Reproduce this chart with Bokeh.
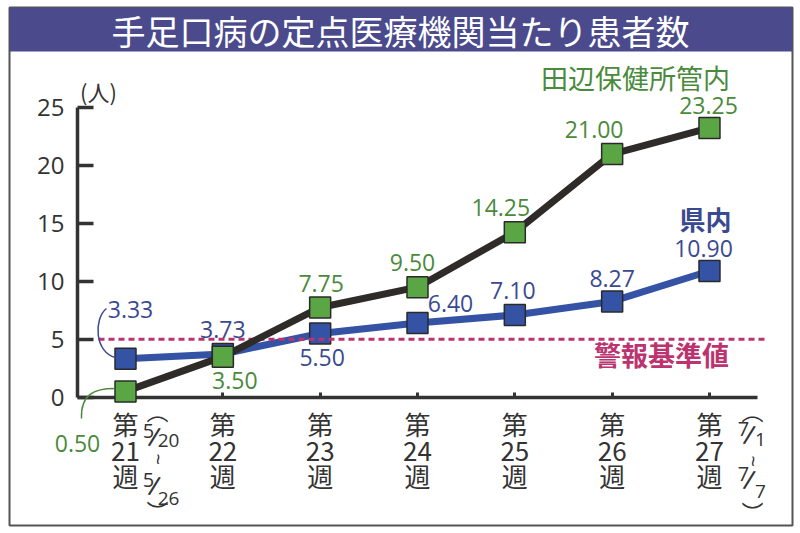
import math
from bokeh.plotting import figure
from bokeh.models import Range1d, LinearAxis, FixedTicker, BoxAnnotation
from bokeh.core.properties import value
from bokeh.embed import file_html
from bokeh.resources import INLINE

# ---------------- data ----------------
title = "手足口病の定点医療機関当たり患者数"
weeks = [21, 22, 23, 24, 25, 26, 27]
week_labels = ["第\n21\n週", "第\n22\n週", "第\n23\n週", "第\n24\n週",
               "第\n25\n週", "第\n26\n週", "第\n27\n週"]
tanabe = [0.50, 3.50, 7.75, 9.50, 14.25, 21.00, 23.25]
kennai = [3.33, 3.73, 5.50, 6.40, 7.10, 8.27, 10.90]
threshold = 5
y_ticks = [0, 5, 10, 15, 20, 25]
series_names = ["田辺保健所管内", "県内"]
threshold_name = "警報基準値"
unit_label = "(人)"
first_week_period = ("5/20", "5/26")
last_week_period = ("7/1", "7/7")

# ---------------- layout / style ----------------
W, H = 800, 533
BL, BR, BT, BB = 9, 8, 7, 8          # white margin around the framed chart
X21, DX = 125.0, 97.33      # px of first week, px per week
Y0, PPU = 396.7, 11.58      # px of value 0, px per unit

def xd(px):
    return weeks[0] + (px - X21) / DX

def yd(py):
    return (Y0 - py) / PPU

GREEN = "#5aa544"
GREEN_T = "#4a8a3c"
BLUE = "#3553a5"
BLUE_T = "#3a4a90"
DARK = "#2e2b28"
RED = "#bb3470"
AX = "#333333"
JP = "Noto Sans CJK JP"
NUM = "Open Sans"

p = figure(width=W, height=H, x_range=Range1d(xd(BL), xd(W - BR)),
           y_range=Range1d(yd(H - BB), yd(BT)),
           x_axis_type=None, y_axis_type=None,
           output_backend="svg", toolbar_location=None,
           min_border_left=BL, min_border_right=BR,
           min_border_top=BT, min_border_bottom=BB)
p.xgrid.visible = False
p.ygrid.visible = False
p.background_fill_color = "white"
p.border_fill_color = "white"
p.outline_line_color = "#555555"
p.outline_line_width = 2

# title band
band = BoxAnnotation(bottom=yd(51), fill_color="#4a4a8c", fill_alpha=1.0,
                     line_color=None, level="image")
p.add_layout(band)
p.text(x=[xd(400)], y=[yd(29.5)], text=[title], text_color="white",
       text_font=value(JP), text_font_size="34px",
       text_align="center", text_baseline="middle")

# axes
yaxis = LinearAxis(ticker=FixedTicker(ticks=y_ticks), fixed_location=xd(77),
                   bounds=(y_ticks[0], y_ticks[-1]),
                   axis_line_width=3.5, axis_line_color=AX,
                   major_tick_in=16, major_tick_out=0,
                   major_tick_line_width=3.5, major_tick_line_color=AX,
                   minor_tick_line_color=None,
                   major_label_text_font=NUM, major_label_text_font_size="24px",
                   major_label_text_color=AX, major_label_standoff=13,
                   level="underlay")
p.add_layout(yaxis, "left")

xaxis = LinearAxis(ticker=FixedTicker(ticks=weeks), fixed_location=0,
                   bounds=(xd(77), xd(757)),
                   axis_line_width=3.5, axis_line_color=AX,
                   major_tick_in=5, major_tick_out=0,
                   major_tick_line_width=3, major_tick_line_color=AX,
                   minor_tick_line_color=None,
                   major_label_overrides={w: l for w, l in zip(weeks, week_labels)},
                   major_label_text_font=JP, major_label_text_font_size="26px",
                   major_label_text_line_height=0.7,
                   major_label_text_color=AX, major_label_standoff=8,
                   level="underlay")
p.add_layout(xaxis, "below")

# 県内 series
p.line(weeks, kennai, line_color=BLUE, line_width=7)
p.scatter(weeks, kennai, marker="square", size=21, fill_color=BLUE,
          line_color="#2a2a2a", line_width=1.5)

# threshold line
p.line([xd(98), xd(765)], [threshold, threshold], line_color=RED,
       line_width=3, line_dash="6 4")

# 田辺 series
p.line(weeks, tanabe, line_color=DARK, line_width=7)
p.scatter(weeks, tanabe, marker="square", size=21, fill_color=GREEN,
          line_color="#2a2a2a", line_width=1.5)

# value labels
g_off = [(-48, 52), (12, 24), (1, -24), (-5, -25), (-14, -25), (-18, -25), (-1, -22)]
b_off = [(5, -49), (0, -25), (2, 24), (33, -20), (-2, -24), (0, -23), (-6, -22)]
p.text(x=weeks, y=tanabe, text=[f"{v:.2f}" for v in tanabe],
       x_offset=[o[0] for o in g_off], y_offset=[o[1] for o in g_off],
       text_color=GREEN_T, text_font=value(NUM), text_font_size="23px",
       text_align="center", text_baseline="middle")
p.text(x=weeks, y=kennai, text=[f"{v:.2f}" for v in kennai],
       x_offset=[o[0] for o in b_off], y_offset=[o[1] for o in b_off],
       text_color=BLUE_T, text_font=value(NUM), text_font_size="23px",
       text_align="center", text_baseline="middle")

# leader curves
p.bezier(x0=[xd(81)], y0=[yd(418)], cx0=[xd(80)], cy0=[yd(393)],
         cx1=[xd(95)], cy1=[yd(388)], x1=[xd(114)], y1=[yd(388)],
         line_color=GREEN_T, line_width=1.5)
p.bezier(x0=[xd(106)], y0=[yd(308)], cx0=[xd(93)], cy0=[yd(318)],
         cx1=[xd(94)], cy1=[yd(352)], x1=[xd(115)], y1=[yd(357)],
         line_color=BLUE_T, line_width=1.5)

# series names
p.text(x=[weeks[-1]], y=[tanabe[-1]], text=[series_names[0]], x_offset=-74, y_offset=-50,
       text_color=GREEN_T, text_font=value(JP), text_font_size="27px",
       text_align="center", text_baseline="middle")
p.text(x=[weeks[-1]], y=[kennai[-1]], text=[series_names[1]], x_offset=-4, y_offset=-52,
       text_color=BLUE_T, text_font=value(JP), text_font_size="26px",
       text_font_style="bold", text_align="center", text_baseline="middle")
p.text(x=[weeks[-1]], y=[threshold], text=[threshold_name], x_offset=-48, y_offset=15,
       text_color=RED, text_font=value(JP), text_font_size="27px",
       text_font_style="bold", text_align="center", text_baseline="middle")
p.text(x=[weeks[0]], y=[y_ticks[-1]], text=[unit_label], x_offset=-27, y_offset=-17,
       text_color=AX, text_font=value(JP), text_font_size="22px",
       text_align="center", text_baseline="middle")

# period annotations beside first and last week
def period(week, dates, dx, spec):
    (n1, d1), (n2, d2) = [d.split("/") for d in dates]
    items = [
        ("︵", 0, spec["top"], 22, 0.0),
        (n1, -9, spec["n1"], 20, 0.0),
        ("/", -3, spec["n1"] + 5, 27, -0.2),
        (d1, spec["dw"], spec["d1"], 19, 0.0),
        ("~", 0, spec["t"], 20, math.pi / 2),
        (n2, -9, spec["n2"], 20, 0.0),
        ("/", -3, spec["n2"] + 5, 27, -0.2),
        (d2, spec["dw"], spec["d2"], 19, 0.0),
        ("︶", 0, spec["bot"], 22, 0.0),
    ]
    for t, ox, oy, fs, ang in items:
        p.text(x=[week], y=[0], text=[t], x_offset=dx + ox, y_offset=oy,
               angle=ang, text_color=AX, text_font=value(JP if t in "︵︶" else NUM),
               text_font_size=f"{fs}px", text_align="center", text_baseline="middle")

period(weeks[0], first_week_period, 32,
       dict(top=13, n1=34, d1=43, t=62, n2=83, d2=101, bot=113, dw=11))
period(weeks[-1], last_week_period, 43,
       dict(top=13, n1=32, d1=42, t=64, n2=77, d2=94, bot=114, dw=8))

open("out.html", "w").write(file_html(p, INLINE))
